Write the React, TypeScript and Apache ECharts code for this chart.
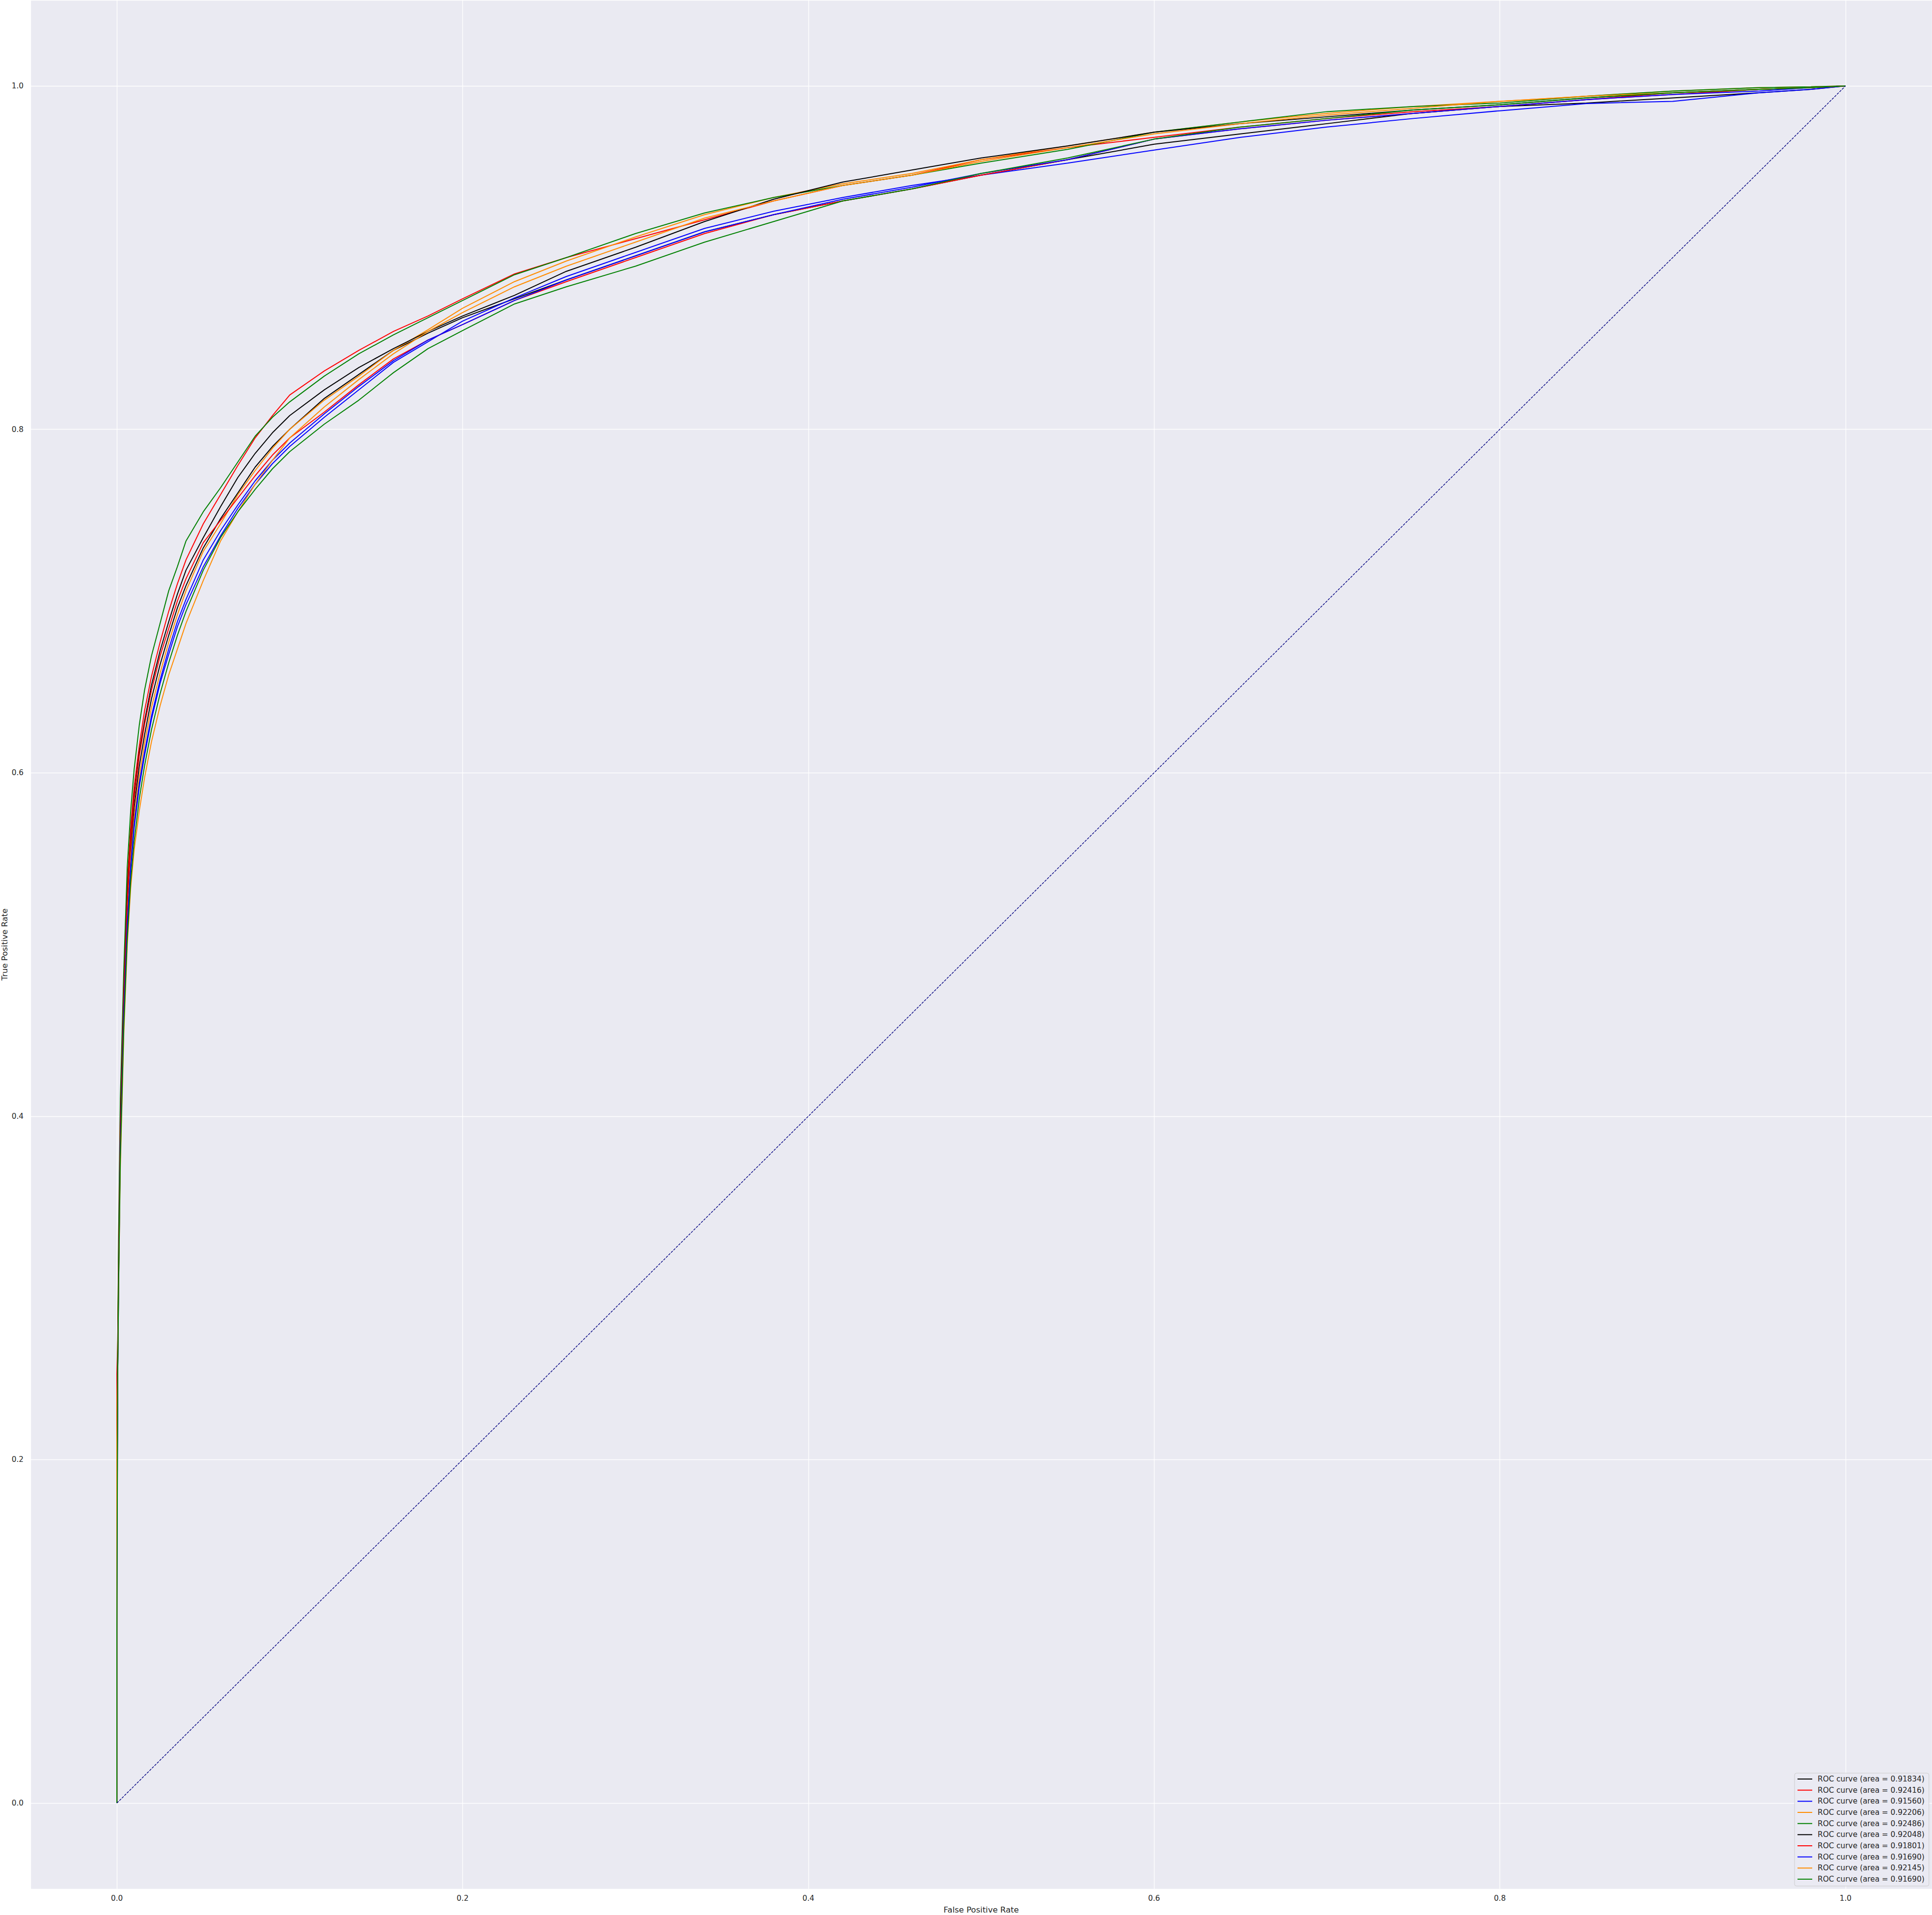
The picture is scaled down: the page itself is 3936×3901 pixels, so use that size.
import React, { useEffect, useRef } from "react";
import * as echarts from "echarts";

// Shared false-positive-rate sample points
const FPR = [0, 0, 0.0005, 0.001, 0.002, 0.004, 0.006, 0.008, 0.01, 0.013, 0.016, 0.02, 0.025, 0.03, 0.035, 0.04, 0.05, 0.06, 0.07, 0.08, 0.09, 0.1, 0.12, 0.14, 0.16, 0.18, 0.2, 0.23, 0.26, 0.3, 0.34, 0.38, 0.42, 0.46, 0.5, 0.55, 0.6, 0.65, 0.7, 0.75, 0.8, 0.85, 0.9, 0.95, 0.98, 1];

// True positive rates for each of the ten ROC curves
const TPR_BLACK_1 = [0, 0.15, 0.25, 0.31, 0.39, 0.466, 0.52, 0.555, 0.58, 0.604, 0.622, 0.643, 0.663, 0.68, 0.696, 0.709, 0.731, 0.748, 0.763, 0.778, 0.79, 0.8, 0.818, 0.832, 0.846, 0.856, 0.865, 0.876, 0.887, 0.901, 0.915, 0.925, 0.933, 0.94, 0.948, 0.957, 0.966, 0.972, 0.978, 0.984, 0.988, 0.99, 0.993, 0.996, 0.998, 1];
const TPR_RED_1 = [0, 0.25, 0.27, 0.32, 0.4, 0.478, 0.535, 0.568, 0.592, 0.616, 0.636, 0.656, 0.676, 0.694, 0.71, 0.724, 0.745, 0.762, 0.779, 0.795, 0.808, 0.82, 0.834, 0.846, 0.857, 0.866, 0.876, 0.8905, 0.9, 0.911, 0.922, 0.933, 0.942, 0.948, 0.957, 0.964, 0.97, 0.976, 0.981, 0.985, 0.988, 0.992, 0.996, 0.998, 0.999, 1];
const TPR_BLUE_1 = [0, 0.16, 0.25, 0.305, 0.38, 0.458, 0.51, 0.544, 0.568, 0.592, 0.61, 0.631, 0.652, 0.669, 0.685, 0.698, 0.72, 0.738, 0.754, 0.768, 0.78, 0.79, 0.807, 0.823, 0.839, 0.851, 0.863, 0.8765, 0.889, 0.903, 0.917, 0.927, 0.935, 0.942, 0.948, 0.955, 0.9626, 0.97, 0.976, 0.981, 0.9855, 0.9897, 0.991, 0.996, 0.998, 1];
const TPR_ORANGE_1 = [0, 0.23, 0.26, 0.31, 0.385, 0.462, 0.515, 0.55, 0.574, 0.598, 0.617, 0.638, 0.658, 0.676, 0.692, 0.706, 0.729, 0.745, 0.762, 0.776, 0.789, 0.8, 0.817, 0.831, 0.846, 0.858, 0.8705, 0.886, 0.898, 0.912, 0.925, 0.935, 0.943, 0.949, 0.957, 0.965, 0.973, 0.979, 0.984, 0.988, 0.991, 0.994, 0.997, 0.999, 0.9995, 1];
const TPR_GREEN_1 = [0, 0.2, 0.27, 0.33, 0.41, 0.485, 0.545, 0.578, 0.602, 0.628, 0.648, 0.668, 0.687, 0.706, 0.72, 0.735, 0.752, 0.766, 0.781, 0.796, 0.807, 0.816, 0.831, 0.844, 0.855, 0.865, 0.875, 0.89, 0.9, 0.914, 0.926, 0.935, 0.942, 0.948, 0.955, 0.963, 0.973, 0.979, 0.985, 0.988, 0.99, 0.994, 0.997, 0.999, 0.9995, 1];
const TPR_BLACK_2 = [0, 0.18, 0.26, 0.315, 0.395, 0.472, 0.528, 0.562, 0.587, 0.612, 0.63, 0.651, 0.671, 0.688, 0.704, 0.718, 0.737, 0.755, 0.772, 0.786, 0.798, 0.808, 0.823, 0.836, 0.847, 0.857, 0.866, 0.878, 0.892, 0.906, 0.921, 0.934, 0.944, 0.951, 0.958, 0.965, 0.973, 0.978, 0.982, 0.986, 0.989, 0.993, 0.996, 0.998, 0.999, 1];
const TPR_RED_2 = [0, 0.22, 0.26, 0.31, 0.39, 0.47, 0.525, 0.56, 0.585, 0.61, 0.628, 0.648, 0.668, 0.684, 0.7, 0.713, 0.734, 0.747, 0.76, 0.773, 0.785, 0.795, 0.81, 0.826, 0.841, 0.852, 0.861, 0.875, 0.886, 0.9, 0.914, 0.925, 0.933, 0.94, 0.948, 0.957, 0.969, 0.975, 0.98, 0.984, 0.988, 0.992, 0.995, 0.998, 0.999, 1];
const TPR_BLUE_2 = [0, 0.12, 0.25, 0.3, 0.38, 0.46, 0.512, 0.546, 0.57, 0.594, 0.612, 0.633, 0.654, 0.672, 0.688, 0.701, 0.724, 0.741, 0.756, 0.77, 0.782, 0.792, 0.809, 0.825, 0.84, 0.852, 0.861, 0.875, 0.887, 0.901, 0.915, 0.925, 0.934, 0.941, 0.949, 0.957, 0.969, 0.975, 0.98, 0.984, 0.988, 0.992, 0.995, 0.997, 0.999, 1];
const TPR_ORANGE_2 = [0, 0.21, 0.25, 0.3, 0.37, 0.448, 0.5, 0.533, 0.555, 0.578, 0.597, 0.618, 0.639, 0.657, 0.672, 0.687, 0.712, 0.735, 0.752, 0.768, 0.782, 0.795, 0.813, 0.829, 0.844, 0.857, 0.868, 0.883, 0.895, 0.909, 0.923, 0.933, 0.942, 0.948, 0.956, 0.964, 0.972, 0.978, 0.983, 0.987, 0.991, 0.994, 0.996, 0.998, 0.999, 1];
const TPR_GREEN_2 = [0, 0.1, 0.25, 0.3, 0.375, 0.452, 0.503, 0.537, 0.56, 0.585, 0.604, 0.625, 0.646, 0.664, 0.68, 0.694, 0.718, 0.737, 0.752, 0.765, 0.777, 0.787, 0.803, 0.817, 0.833, 0.847, 0.8575, 0.873, 0.883, 0.895, 0.909, 0.921, 0.933, 0.94, 0.949, 0.958, 0.969, 0.976, 0.981, 0.986, 0.989, 0.993, 0.996, 0.998, 0.999, 1];

const LABELS = [
  "ROC curve (area = 0.91834)",
  "ROC curve (area = 0.92416)",
  "ROC curve (area = 0.91560)",
  "ROC curve (area = 0.92206)",
  "ROC curve (area = 0.92486)",
  "ROC curve (area = 0.92048)",
  "ROC curve (area = 0.91801)",
  "ROC curve (area = 0.91690)",
  "ROC curve (area = 0.92145)",
  "ROC curve (area = 0.91690)",
];
const COLORS = ["#000000", "#ff0000", "#0000ff", "#ff8c00", "#008000", "#000000", "#ff0000", "#0000ff", "#ff8c00", "#008000"];
const TPRS = [TPR_BLACK_1, TPR_RED_1, TPR_BLUE_1, TPR_ORANGE_1, TPR_GREEN_1, TPR_BLACK_2, TPR_RED_2, TPR_BLUE_2, TPR_ORANGE_2, TPR_GREEN_2];

const CHANCE = [[0, 0], [1, 1]];

const FONT = "DejaVu Sans";
const TEXT = "#262626";

export default function App() {
  const ref = useRef<HTMLDivElement>(null);
  useEffect(() => {
    if (!ref.current) return;
    const chart = echarts.init(ref.current, null, { renderer: "svg" });
    const keys = LABELS.map((_, i) => "curve" + i);
    const series: any[] = TPRS.map((tpr, i) => ({
      name: keys[i],
      type: "line",
      data: FPR.map((f, j) => [f, tpr[j]]),
      symbol: "none",
      showSymbol: false,
      silent: true,
      lineStyle: { color: COLORS[i], width: 2 },
      itemStyle: { color: COLORS[i] },
      emphasis: { disabled: true },
      z: 2 + i,
    }));
    series.push({
      name: "chance",
      type: "line",
      data: CHANCE,
      symbol: "none",
      silent: true,
      lineStyle: { color: "#000080", width: 1.4, type: [5, 2.2] },
      emphasis: { disabled: true },
      z: 20,
    });
    chart.setOption({
      animation: false,
      backgroundColor: "#ffffff",
      grid: {
        left: 62,
        right: 0,
        top: 0,
        bottom: 53,
        show: true,
        backgroundColor: "#EAEAF2",
        borderWidth: 0,
        containLabel: false,
        outerBoundsMode: "none",
      },
      xAxis: {
        type: "value",
        min: -0.05,
        max: 1.05,
        splitNumber: 5,
        name: "False Positive Rate",
        nameLocation: "middle",
        nameGap: 34,
        nameMoveOverlap: false,
        nameTextStyle: { fontFamily: FONT, fontSize: 16.5, color: TEXT },
        axisLine: { show: false },
        axisTick: { show: false },
        axisLabel: {
          showMinLabel: false,
          showMaxLabel: false,
          margin: 11,
          fontFamily: FONT,
          fontSize: 15.3,
          color: TEXT,
          formatter: (v: number) => v.toFixed(1),
        },
        splitLine: { show: true, lineStyle: { color: "#ffffff", width: 1.4 } },
      },
      yAxis: {
        type: "value",
        min: -0.05,
        max: 1.05,
        splitNumber: 5,
        name: "True Positive Rate",
        nameLocation: "middle",
        nameRotate: 90,
        nameGap: 44,
        nameMoveOverlap: false,
        nameTextStyle: { fontFamily: FONT, fontSize: 16.5, color: TEXT },
        axisLine: { show: false },
        axisTick: { show: false },
        axisLabel: {
          showMinLabel: false,
          showMaxLabel: false,
          margin: 14,
          fontFamily: FONT,
          fontSize: 15.3,
          color: TEXT,
          formatter: (v: number) => v.toFixed(1),
        },
        splitLine: { show: true, lineStyle: { color: "#ffffff", width: 1.4 } },
      },
      legend: {
        data: keys,
        orient: "vertical",
        left: 3656,
        top: 3612,
        padding: [2, 9, 4, 6],
        icon: "rect",
        itemWidth: 30,
        itemHeight: 2,
        itemGap: 2.67,
        backgroundColor: "rgba(234,234,242,0.8)",
        borderColor: "#cccccc",
        borderWidth: 1,
        borderRadius: 4,
        selectedMode: false,
        formatter: (name: string) => LABELS[keys.indexOf(name)],
        textStyle: {
          fontFamily: FONT,
          fontSize: 15.3,
          color: TEXT,
          lineHeight: 20,
          padding: [0, 0, 0, 6],
        },
      },
      series,
    });
    return () => chart.dispose();
  }, []);
  return (
    <div
      ref={ref}
      style={{ position: "fixed", left: 0, top: 0, width: 3936, height: 3901 }}
    />
  );
}
